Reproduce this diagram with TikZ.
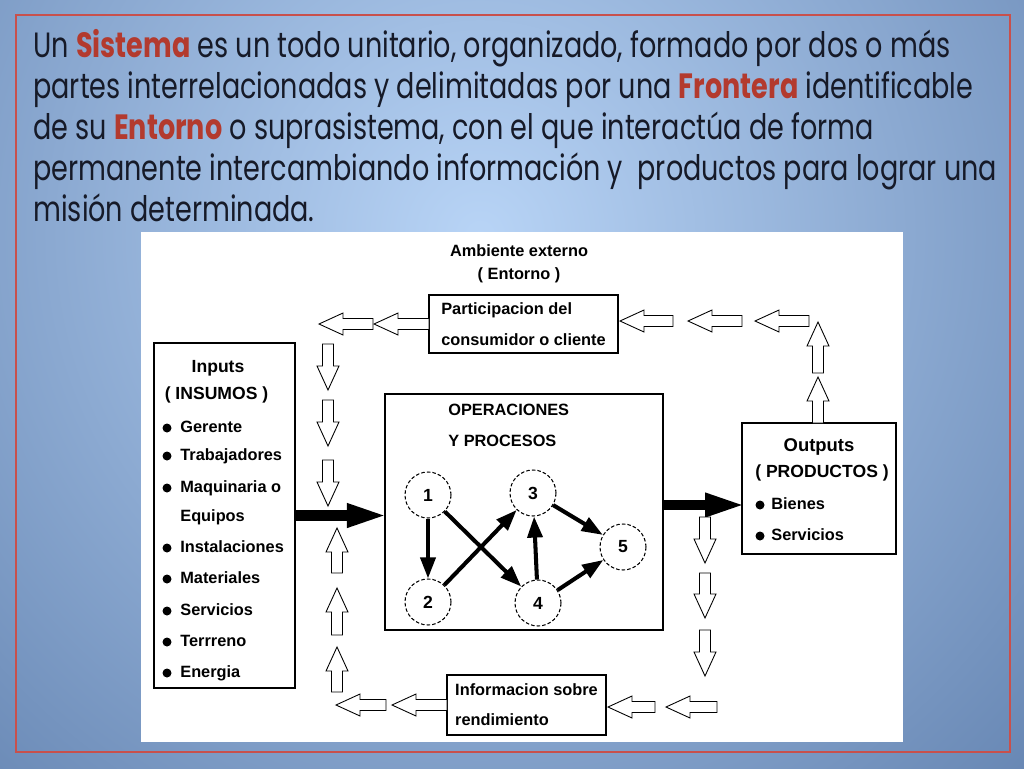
\documentclass[tikz,border=0pt]{standalone}
\usepackage{fontspec}
\setmainfont{Liberation Sans}
\newfontfamily\textofont{Poppins}[FakeStretch=0.77]
\usetikzlibrary{arrows.meta}
\definecolor{fondoclaro}{HTML}{B8D4F6}
\definecolor{fondooscuro}{HTML}{5E7EAC}
\definecolor{marco}{HTML}{C8504C}
\definecolor{resalte}{HTML}{B33A2E}
\definecolor{tinta}{HTML}{161A28}
\def\flechah(#1,#2)(#3){\pgfmathsetmacro\dirf{sign(#3-#1)}\draw[hueca] (#1,#2) -- ({#1+\dirf*24},{#2-11}) -- ({#1+\dirf*24},{#2-5.5}) -- (#3,{#2-5.5}) -- (#3,{#2+5.5}) -- ({#1+\dirf*24},{#2+5.5}) -- ({#1+\dirf*24},{#2+11}) -- cycle;}
\def\flechav(#1,#2)(#3){\pgfmathsetmacro\dirf{sign(#3-#2)}\draw[hueca] (#1,#2) -- ({#1-11},{#2+\dirf*24}) -- ({#1-5.5},{#2+\dirf*24}) -- ({#1-5.5},#3) -- ({#1+5.5},#3) -- ({#1+5.5},{#2+\dirf*24}) -- ({#1+11},{#2+\dirf*24}) -- cycle;}
\begin{document}
\begin{tikzpicture}[x=0.02cm, y=-0.02cm,
	hueca/.style={draw=black, fill=white, line width=0.5pt},
	caja/.style={draw=black, line width=1.3pt, rectangle, inner sep=0pt},
	etiq/.style={font=\bfseries\fontsize{9.3}{11}\selectfont, inner sep=0pt},
	proceso/.style={circle, draw=black, dash pattern=on 2pt off 1.2pt, line width=0.6pt, minimum size=0.92cm, inner sep=0pt, font=\bfseries\fontsize{10}{12}\selectfont},
	arista/.style={line width=2.3pt, -{Triangle[length=12pt,width=8.5pt]}},
	gruesa/.style={line width=6pt, shorten >=-3pt, -{Triangle[length=24pt,width=12pt]}},
	linea/.style={font=\textofont\fontsize{20}{24}\selectfont, text=tinta, anchor=base west, inner sep=0pt}]
			%%%%% FONDO %%%%%
			\useasboundingbox (0,0) rectangle (1024,768);
			\fill[fondooscuro] (0,0) rectangle (1024,768);
			\begin{scope}
				\clip (0,0) rectangle (1024,768);
				\shade[inner color=fondoclaro, outer color=fondooscuro] (480,235) circle (860);
			\end{scope}
			\draw[marco, line width=1.2pt] (16,15) rectangle (1010,752);
			
			%%%%% TEXTO %%%%%
			\node[linea] (l1) at (33,57) {Un \textbf{\color{resalte}Sistema} es un todo unitario, organizado, formado por dos o más};
			\node[linea] (l2) at (33,98) {partes interrelacionadas y delimitadas por una \textbf{\color{resalte}Frontera} identificable};
			\node[linea] (l3) at (33,139) {de su \textbf{\color{resalte}Entorno} o suprasistema, con el que interactúa de forma};
			\node[linea] (l4) at (33,180) {permanente intercambiando información y\ \ productos para lograr una};
			\node[linea] (l5) at (33,221) {misión determinada.};
			
			%%%%% DIAGRAMA %%%%%
			\fill[white] (141,232) rectangle (903,742);
			
			\node[etiq, align=center, font=\bfseries\fontsize{9.3}{13}\selectfont] (ambiente) at (519,264) {Ambiente externo\\( Entorno )};
			\node[caja, etiq, minimum width=3.78cm, minimum height=1.16cm, align=left, font=\bfseries\fontsize{9.3}{17}\selectfont] (cliente) at (523.5,324) {\raisebox{-2pt}{Participacion del}\\\raisebox{-3pt}{consumidor o cliente}};
			\node[caja, etiq, minimum width=3.18cm, minimum height=1.2cm, align=left, font=\bfseries\fontsize{9.3}{17}\selectfont] (info) at (526.5,705) {\raisebox{-2pt}{Informacion sobre}\\\raisebox{-2pt}{rendimiento}};
			
			\node[caja, minimum width=2.82cm, minimum height=6.9cm] (inputs) at (224.5,515.5) {};
			\node[etiq, anchor=mid, font=\bfseries\fontsize{10}{12}\selectfont] (intit) at (218,368) {Inputs};
			\node[etiq, anchor=mid, font=\bfseries\fontsize{10}{12}\selectfont] (insub) at (216.5,395) {( INSUMOS )};
			\fill (167,428) circle (4.5); \node[etiq, anchor=mid west] (in1) at (180,428) {Gerente};
			\fill (167,456) circle (4.5); \node[etiq, anchor=mid west] (in2) at (180,456) {Trabajadores};
			\fill (167,488) circle (4.5); \node[etiq, anchor=mid west] (in3) at (180,488) {Maquinaria o};
			\node[etiq, anchor=mid west] (in4) at (180,517) {Equipos};
			\fill (167,548) circle (4.5); \node[etiq, anchor=mid west] (in5) at (180,548) {Instalaciones};
			\fill (167,579) circle (4.5); \node[etiq, anchor=mid west] (in6) at (180,579) {Materiales};
			\fill (167,611) circle (4.5); \node[etiq, anchor=mid west] (in7) at (180,611) {Servicios};
			\fill (167,642) circle (4.5); \node[etiq, anchor=mid west] (in8) at (180,642) {Terrreno};
			\fill (167,673) circle (4.5); \node[etiq, anchor=mid west] (in9) at (180,673) {Energia};
			
			\node[caja, minimum width=5.56cm, minimum height=4.72cm] (operaciones) at (524,512) {};
			\node[etiq, anchor=mid west] (optit) at (448,411) {OPERACIONES};
			\node[etiq, anchor=mid west] (opsub) at (448,442) {Y PROCESOS};
			\node[proceso] (c1) at (428,495) {1};
			\node[proceso] (c2) at (428,602) {2};
			\node[proceso] (c3) at (533,493) {3};
			\node[proceso] (c4) at (538,603) {4};
			\node[proceso] (c5) at (623,547) {5};
			\draw[arista] (c1) -- (c2);
			\draw[arista] (c1) -- (c4);
			\draw[arista] (c2) -- (c3);
			\draw[arista] (c4) -- (c3);
			\draw[arista] (c3) -- (c5);
			\draw[arista] (c4) -- (c5);
			
			\node[caja, minimum width=3.08cm, minimum height=2.62cm] (outputs) at (819,488.5) {};
			\node[etiq, anchor=mid, font=\bfseries\fontsize{10.5}{12}\selectfont] (outtit) at (819,447) {Outputs};
			\node[etiq, anchor=mid, font=\bfseries\fontsize{10}{12}\selectfont] (outsub) at (822,473) {( PRODUCTOS )};
			\fill (760,505) circle (4.5); \node[etiq, anchor=mid west] (out1) at (771,505) {Bienes};
			\fill (760,536) circle (4.5); \node[etiq, anchor=mid west] (out2) at (771,536) {Servicios};
			
			\coordinate (sal) at (742,505);
			\draw[gruesa] (inputs.east) -- (inputs.east -| operaciones.west);
			\draw[gruesa] (operaciones.east |- sal) -- (sal);
			
			%%%%% FLECHAS HUECAS %%%%%
			\flechah(319,324)(373);
			\flechah(374,324)(429);
			\flechah(620,321)(673);
			\flechah(688,321)(742);
			\flechah(755,321)(809);
			\flechav(818,322)(373);
			\flechav(818,377)(423);
			
			\flechav(328,390)(344);
			\flechav(328,446)(400);
			\flechav(328,506)(460);
			\flechav(337,528)(573);
			\flechav(337,588)(635);
			\flechav(337,647)(692);
			
			\flechah(336,705)(386);
			\flechah(392,705)(447);
			\flechah(608,707)(655);
			\flechah(666,707)(717);
			\flechav(705,563)(517);
			\flechav(705,618)(573);
			\flechav(705,676)(630);
\end{tikzpicture}
\end{document}
